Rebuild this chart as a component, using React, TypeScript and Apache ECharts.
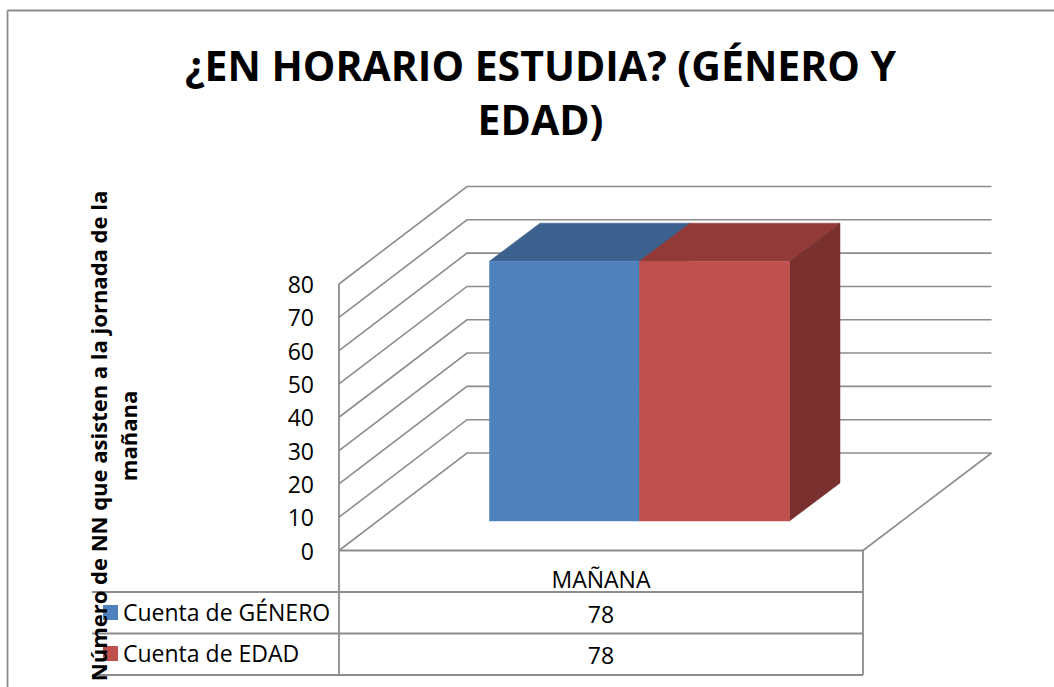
import React, { useEffect, useRef } from "react";
import * as echarts from "echarts";

const titleText = "¿EN HORARIO ESTUDIA? (GÉNERO Y\nEDAD)";
const yTitle = "Número de NN que asisten a la jornada de la\nmañana";
const categories = ["MAÑANA"];
const seriesNames = ["Cuenta de GÉNERO", "Cuenta de EDAD"];
const generoValues = [78];
const edadValues = [78];
const tickValues = [0, 10, 20, 30, 40, 50, 60, 70, 80];
const FONT = "'Open Sans', sans-serif";
const GREY = "#8c8c8c";
const W = 1054, H = 687;
const GL = 339, GT = 284, GW = 524, GH = 266.5;
const WALL_DX = 128, WALL_DY = -97.5;
const BAR_DX = 38.5, BAR_DY = -29.5;
const DEPTH_DX = 50.5, DEPTH_DY = -38;
const BAR_W = 150;

const faces = [
  { front: "#4F81BD", top: "#3D618F", side: "#3A5C85" },
  { front: "#C0504D", top: "#913A37", side: "#7A302E" },
];

function barItem(seriesIdx: number) {
  return (_p: any, api: any) => {
    const base = api.coord([api.value(0), 0]);
    const top = api.coord([api.value(0), api.value(1)]);
    const xl = base[0] + BAR_DX - BAR_W + seriesIdx * BAR_W;
    const xr = xl + BAR_W;
    const yb = base[1] + BAR_DY;
    const yt = top[1] + BAR_DY;
    const f = faces[seriesIdx];
    const poly = (points: number[][], fill: string) => ({
      type: "polygon",
      shape: { points },
      style: { fill, stroke: fill, lineWidth: 0.5 },
    });
    return {
      type: "group",
      children: [
        poly([[xl, yt], [xr, yt], [xr + DEPTH_DX, yt + DEPTH_DY], [xl + DEPTH_DX, yt + DEPTH_DY]], f.top),
        poly([[xr, yt], [xr + DEPTH_DX, yt + DEPTH_DY], [xr + DEPTH_DX, yb + DEPTH_DY], [xr, yb]], f.side),
        poly([[xl, yt], [xr, yt], [xr, yb], [xl, yb]], f.front),
      ],
    };
  };
}

function wallItem(_p: any, api: any) {
  const p = api.coord([0, api.value(0)]);
  const y = p[1];
  return {
    type: "polyline",
    shape: { points: [[GL, y], [GL + WALL_DX, y + WALL_DY], [GL + WALL_DX + 524.5, y + WALL_DY]] },
    style: { fill: "none", stroke: GREY, lineWidth: 1.6 },
  };
}

const line = (x1: number, y1: number, x2: number, y2: number, lw = 1.8) => ({
  type: "line",
  shape: { x1, y1, x2, y2 },
  style: { stroke: GREY, lineWidth: lw },
  silent: true,
});
const label = (text: string, x: number, y: number, align = "center") => ({
  type: "text",
  x,
  y,
  style: { text, font: `23px ${FONT}`, fill: "#000", align, verticalAlign: "middle" },
  silent: true,
});

export default function App() {
  const ref = useRef<HTMLDivElement>(null);
  useEffect(() => {
    const chart = echarts.init(ref.current!, undefined, { renderer: "svg" });
    const midX = GL + GW / 2;
    chart.setOption({
      animation: false,
      backgroundColor: "#fff",
      title: {
        text: titleText,
        left: 535.5,
        top: 33,
        textAlign: "center",
        textStyle: { fontFamily: FONT, fontWeight: "bold", fontSize: 41, lineHeight: 54, color: "#000" },
      },
      grid: { left: GL, top: GT, width: GW, height: GH },
      xAxis: {
        type: "category",
        data: categories,
        axisLine: { show: false },
        axisTick: { show: false },
        axisLabel: { fontFamily: FONT, fontSize: 23, color: "#000", margin: 17 },
      },
      yAxis: {
        type: "value",
        min: 0,
        max: 80,
        interval: 10,
        splitLine: { show: false },
        axisLine: { show: false },
        axisTick: { show: false },
        axisLabel: { fontFamily: FONT, fontSize: 23, color: "#000", margin: 25 },
      },
      series: [
        {
          type: "custom",
          name: "walls",
          data: tickValues.map((v) => [v]),
          renderItem: wallItem,
          encode: { y: 0 },
          silent: true,
          z: 1,
        },
        {
          type: "custom",
          name: seriesNames[0],
          data: categories.map((_c, i) => [i, generoValues[i]]),
          renderItem: barItem(0),
          encode: { x: 0, y: 1 },
          z: 3,
        },
        {
          type: "custom",
          name: seriesNames[1],
          data: categories.map((_c, i) => [i, edadValues[i]]),
          renderItem: barItem(1),
          encode: { x: 0, y: 1 },
          z: 4,
        },
      ],
      graphic: [
        line(7.5, 10.5, 1054, 10.5),
        line(7.5, 10.5, 7.5, 687),
        line(339, 284, 339, 675),
        line(339, 550.5, 863, 550.5),
        line(863, 550.5, 991.5, 453, 1.6),
        line(863, 550.5, 863, 675),
        line(92, 592, 863, 592),
        line(92, 633.5, 863, 633.5),
        line(92, 675, 863, 675),
        { type: "rect", shape: { x: 103, y: 605, width: 15, height: 15 }, style: { fill: faces[0].front }, silent: true },
        { type: "rect", shape: { x: 103, y: 646, width: 15, height: 15 }, style: { fill: faces[1].front }, silent: true },
        label(seriesNames[0], 123, 612, "left"),
        label(seriesNames[1], 123, 653, "left"),
        label(String(generoValues[0]), midX, 614),
        label(String(edadValues[0]), midX, 655),
        {
          type: "text",
          x: 113,
          y: 436,
          rotation: Math.PI / 2,
          style: {
            text: yTitle,
            font: `bold 22px ${FONT}`,
            lineHeight: 30,
            fill: "#000",
            align: "center",
            verticalAlign: "middle",
          },
          silent: true,
        },
      ],
    });
    return () => chart.dispose();
  }, []);
  return <div ref={ref} style={{ width: W, height: H, position: "fixed", left: 0, top: 0 }} />;
}
